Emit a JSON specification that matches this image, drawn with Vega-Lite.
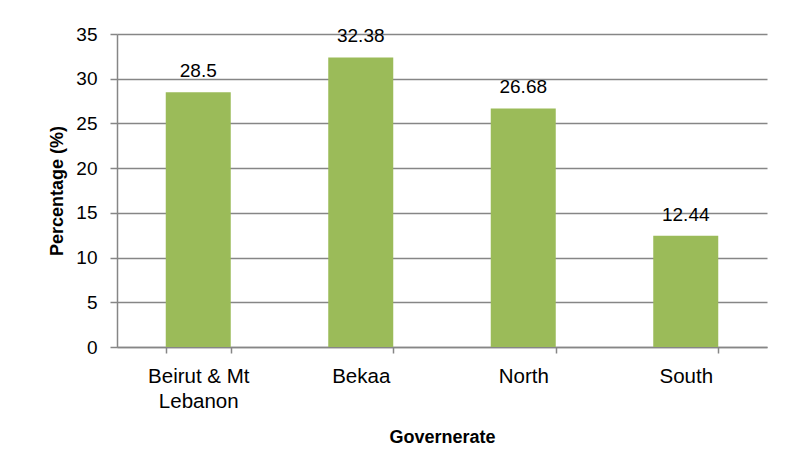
{
  "$schema": "https://vega.github.io/schema/vega-lite/v6.json",
  "width": 650,
  "height": 313,
  "autosize": "none",
  "padding": {"left": 117, "top": 34, "right": 23, "bottom": 125},
  "background": "white",
  "config": {
    "view": {"stroke": null},
    "font": "Liberation Sans",
    "axis": {
      "labelFont": "Liberation Sans",
      "titleFont": "Liberation Sans",
      "labelColor": "black",
      "titleColor": "black",
      "domainColor": "#868686",
      "tickColor": "#868686",
      "gridColor": "#868686",
      "domainWidth": 1.5,
      "tickWidth": 1.5,
      "gridWidth": 1.5
    }
  },
  "data": {
    "values": [
      {"gov": "Beirut & Mt Lebanon", "pct": 28.5, "lab": "28.5"},
      {"gov": "Bekaa", "pct": 32.38, "lab": "32.38"},
      {"gov": "North", "pct": 26.68, "lab": "26.68"},
      {"gov": "South", "pct": 12.44, "lab": "12.44"}
    ]
  },
  "encoding": {
    "x": {
      "field": "gov",
      "type": "nominal",
      "sort": null,
      "title": "Governerate",
      "scale": {"paddingInner": 0.6, "paddingOuter": 0.3},
      "axis": {
        "labelAngle": 0,
        "labelFontSize": 20.5,
        "labelExpr": "datum.value == 'Beirut & Mt Lebanon' ? ['Beirut & Mt', 'Lebanon'] : datum.value",
        "labelLineHeight": 25,
        "labelPadding": 13,
        "tickBand": "extent",
        "tickSize": 6,
        "titleFontSize": 18,
        "titleFontWeight": "bold",
        "titlePadding": 17
      }
    },
    "y": {
      "field": "pct",
      "type": "quantitative",
      "title": "Percentage (%)",
      "scale": {"domain": [0, 35], "nice": false},
      "axis": {
        "values": [0, 5, 10, 15, 20, 25, 30, 35],
        "labelFontSize": 19,
        "labelPadding": 13,
        "tickSize": 7,
        "titleFontSize": 18,
        "titleFontWeight": "bold",
        "titlePadding": 9
      }
    }
  },
  "layer": [
    {"mark": {"type": "bar", "color": "#9BBB59"}},
    {
      "mark": {"type": "text", "baseline": "alphabetic", "dy": -15, "fontSize": 19, "color": "black", "font": "Liberation Sans"},
      "encoding": {"text": {"field": "lab"}}
    }
  ]
}
